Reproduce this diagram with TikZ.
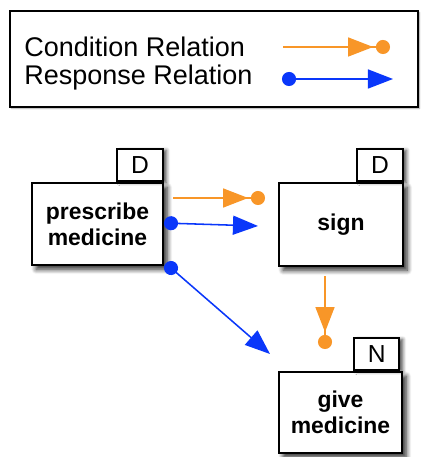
\documentclass[tikz,border=0pt]{standalone}
\usepackage{fontspec}
\setmainfont{Liberation Sans}
\usetikzlibrary{arrows.meta,positioning,shadows.blur}
\definecolor{condorange}{RGB}{248,150,40}
\definecolor{respblue}{RGB}{10,55,250}

\tikzset{
  act/.style={draw, line width=1.4pt, fill=white, align=center, inner sep=0pt,
    font=\bfseries\fontsize{16.3}{18.5}\selectfont,
    blur shadow={shadow xshift=3pt, shadow yshift=-3pt, shadow blur radius=3.5pt,
      shadow blur steps=8, shadow opacity=85}},
  tag/.style={draw, line width=1.4pt, fill=white, inner sep=0pt, anchor=south east,
    minimum width=1.15cm, minimum height=0.8cm, font=\fontsize{17.5}{20}\selectfont,
    blur shadow={shadow xshift=2.5pt, shadow yshift=-1pt, shadow blur radius=2.5pt,
      shadow blur steps=6, shadow opacity=70}},
  cond/.style={condorange, line width=1.1pt,
    -{Triangle[length=17.8pt,width=13.5pt,sep=2pt] Circle[length=10pt]}},
  resp/.style={respblue, line width=1.1pt,
    {Circle[length=10pt]}-{Triangle[length=17.8pt,width=13.5pt]}},
  legtext/.style={anchor=west, inner sep=0pt, font=\fontsize{19.2}{22}\selectfont}
}

\begin{document}
\begin{tikzpicture}[x=0.025cm,y=-0.025cm]
    \useasboundingbox (0,0) rectangle (422,457);
    % Legend
    \node[draw, line width=1.4pt, fill=white, minimum width=10.2cm, minimum height=2.4cm,
      blur shadow={shadow xshift=1pt, shadow yshift=-1pt, shadow blur radius=1pt,
        shadow blur steps=4, shadow opacity=40}]
      (legend) at (214,59) {};
    \node[legtext] (condtxt) at (24,47) {Condition Relation};
    \node[legtext] (resptxt) at (24,78) {Response Relation};
    \coordinate (conda) at (283,47);
    \coordinate (condb) at (390,47);
    \coordinate (respa) at (282,79);
    \coordinate (respb) at (393,79);
    \draw[cond] (conda) -- (condb);
    \draw[resp] (respa) -- (respb);
    % Activities
    \node[act, minimum width=3.275cm, minimum height=2.05cm] (prescribe) at (97.5,224) {prescribe\\medicine};
    \node[tag] (prescribetag) at (prescribe.north east) {D};
    \node[act, minimum width=3.1cm, minimum height=2.075cm] (sign) at (341,224.5) {sign};
    \node[tag] (signtag) at (sign.north east) {D};
    \node[act, minimum width=3.075cm, minimum height=2.025cm] (give) at (340.5,412.5) {give\\medicine};
    \node[tag, minimum width=1.125cm, xshift=-2pt] (givetag) at (give.north east) {N};
    % Relations
    \coordinate (c1a) at (173,198);
    \coordinate (c1b) at (265,198);
    \coordinate (r1a) at (164,223);
    \coordinate (r1b) at (258,226);
    \coordinate (r2a) at (165.7,263.4);
    \coordinate (r2b) at (270,354);
    \coordinate (c2a) at (325,276);
    \coordinate (c2b) at (325,349);
    \draw[cond] (c1a) -- (c1b);
    \draw[resp] (r1a) -- (r1b);
    \draw[resp] (r2a) -- (r2b);
    \draw[cond] (c2a) -- (c2b);
\end{tikzpicture}
\end{document}
